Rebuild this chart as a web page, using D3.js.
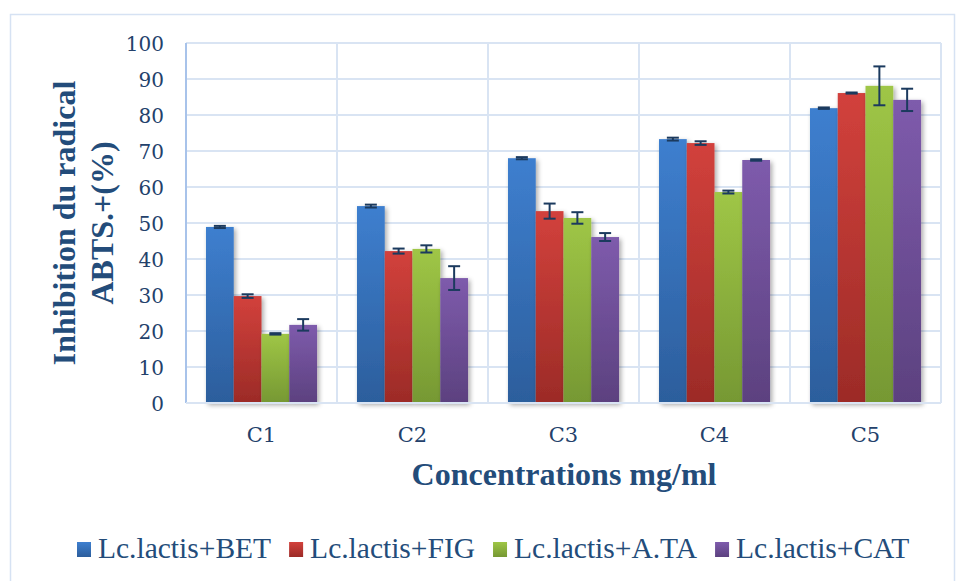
<!DOCTYPE html>
<html><head><meta charset="utf-8">
<script src="https://cdn.jsdelivr.net/npm/d3@7"></script>
<style>body{margin:0;background:#fff}</style>
</head><body>
<svg id="c" width="957" height="581"></svg>
<script>
const categories = ["C1","C2","C3","C4","C5"];
const seriesNames = ["Lc.lactis+BET","Lc.lactis+FIG","Lc.lactis+A.TA","Lc.lactis+CAT"];
const bet = [48.9, 54.7, 68.0, 73.3, 81.9];
const fig = [29.7, 42.2, 53.3, 72.2, 86.1];
const ata = [19.2, 42.8, 51.4, 58.6, 88.1];
const cat = [21.7, 34.7, 46.1, 67.5, 84.2];
const betErr = [0.3, 0.4, 0.3, 0.4, 0.2];
const figErr = [0.5, 0.7, 2.1, 0.5, 0.15];
const ataErr = [0.2, 1.0, 1.6, 0.4, 5.4];
const catErr = [1.6, 3.3, 1.1, 0.2, 3.1];
const yTicks = [0,10,20,30,40,50,60,70,80,90,100];

const values = [bet, fig, ata, cat];
const errs = [betErr, figErr, ataErr, catErr];
const colors = [["#3E7FCF","#2C5E9C"],["#D2413C","#9C2B27"],["#9FC646","#769833"],["#7E5BAC","#5C417F"]];

const svg = d3.select("#c");
const defs = svg.append("defs");
colors.forEach((c,i)=>{
  const g = defs.append("linearGradient").attr("id","g"+i).attr("x1",0).attr("x2",0).attr("y1",0).attr("y2",1);
  g.append("stop").attr("offset","0%").attr("stop-color",c[0]);
  g.append("stop").attr("offset","100%").attr("stop-color",c[1]);
});
const f = defs.append("filter").attr("id","sh").attr("x","-20%").attr("y","-10%").attr("width","150%").attr("height","130%");
f.append("feGaussianBlur").attr("in","SourceAlpha").attr("stdDeviation",2.5);
f.append("feOffset").attr("dx",2).attr("dy",2).attr("result","ob");
f.append("feComponentTransfer").append("feFuncA").attr("type","linear").attr("slope",0.35);
const m = f.append("feMerge"); m.append("feMergeNode"); m.append("feMergeNode").attr("in","SourceGraphic");

// outer border
svg.append("rect").attr("x",10.5).attr("y",14.5).attr("width",944).attr("height",580)
  .attr("fill","none").attr("stroke","#D6E2F3").attr("stroke-width",1.5);

const L=186, R=941, T=43, B=403;
const x0 = d3.scaleBand().domain(categories).range([L,R]).paddingInner(0).paddingOuter(0);
const x1 = d3.scaleBand().domain(seriesNames).range([0,x0.bandwidth()]).paddingInner(0).paddingOuter(0.72);
const y = d3.scaleLinear().domain([0,100]).range([B,T]);

// gridlines
svg.append("g").selectAll("line").data(yTicks).join("line")
  .attr("x1",L).attr("x2",R).attr("y1",d=>y(d)).attr("y2",d=>y(d))
  .attr("stroke","#D9E4F3").attr("stroke-width",2);
svg.append("g").selectAll("line").data(categories).join("line")
  .attr("x1",d=>x0(d)+x0.bandwidth()).attr("x2",d=>x0(d)+x0.bandwidth()).attr("y1",T).attr("y2",B)
  .attr("stroke","#D9E4F3").attr("stroke-width",2);
svg.append("line").attr("x1",L).attr("x2",L).attr("y1",T).attr("y2",B).attr("stroke","#A8C3EA").attr("stroke-width",2);

// bars
seriesNames.forEach((s,i)=>{
  svg.append("g").attr("filter","url(#sh)").selectAll("rect").data(categories).join("rect")
    .attr("x",(c)=>x0(c)+x1(s)).attr("width",x1.bandwidth())
    .attr("y",(c,j)=>y(values[i][j])).attr("height",(c,j)=>B-y(values[i][j]))
    .attr("fill","url(#g"+i+")");
});
// error bars
seriesNames.forEach((s,i)=>{
  const g = svg.append("g").attr("stroke","#1B3A5E").attr("stroke-width",2);
  categories.forEach((c,j)=>{
    const cx = x0(c)+x1(s)+x1.bandwidth()/2;
    const v = values[i][j], e = errs[i][j];
    g.append("line").attr("x1",cx).attr("x2",cx).attr("y1",y(v+e)).attr("y2",y(v-e));
    g.append("line").attr("x1",cx-6).attr("x2",cx+6).attr("y1",y(v+e)).attr("y2",y(v+e));
    g.append("line").attr("x1",cx-6).attr("x2",cx+6).attr("y1",y(v-e)).attr("y2",y(v-e));
  });
});

// baseline
svg.append("line").attr("x1",L).attr("x2",R).attr("y1",B).attr("y2",B).attr("stroke","#D9E4F3").attr("stroke-width",2);

// y axis labels
const yAxis = d3.axisLeft(y).tickValues(yTicks).tickSize(0).tickPadding(22);
const ya = svg.append("g").attr("transform",`translate(${L},0)`).call(yAxis);
ya.select(".domain").remove();
ya.selectAll("text").attr("font-family","'DejaVu Serif', serif").attr("font-size",20).attr("fill","#23416B").attr("dy","0.36em");

// x axis labels
const xAxis = d3.axisBottom(x0).tickSize(0).tickPadding(24);
const xa = svg.append("g").attr("transform",`translate(0,${B})`).call(xAxis);
xa.select(".domain").remove();
xa.selectAll("text").attr("font-family","'DejaVu Serif', serif").attr("font-size",21).attr("fill","#23416B");

// axis titles
const yt = svg.append("text").attr("transform","translate(82,223) rotate(-90)")
  .attr("text-anchor","middle").attr("font-family","'Liberation Serif', serif").attr("font-weight","bold")
  .attr("font-size",32).attr("fill","#234C7A");
yt.append("tspan").attr("x",0).attr("dy","-0.22em").text("Inhibition du radical");
yt.append("tspan").attr("x",0).attr("dy","1.2em").text("ABTS.+(%)");

svg.append("text").attr("x",564).attr("y",485).attr("text-anchor","middle")
  .attr("font-family","'Liberation Serif', serif").attr("font-weight","bold").attr("font-size",32)
  .attr("fill","#234C7A").text("Concentrations mg/ml");

// legend
const lg = svg.append("g");
let cx = 77;
seriesNames.forEach((s,i)=>{
  const item = lg.append("g").attr("transform",`translate(${cx},0)`);
  item.append("rect").attr("x",0).attr("y",542).attr("width",14).attr("height",15).attr("fill","url(#g"+i+")");
  const t = item.append("text").attr("x",21).attr("y",558).attr("font-family","'Liberation Serif', serif")
    .attr("font-size",29.5).attr("fill","#234C7A").text(s);
  cx += 21 + t.node().getComputedTextLength() + 18;
});
</script>
</body></html>
